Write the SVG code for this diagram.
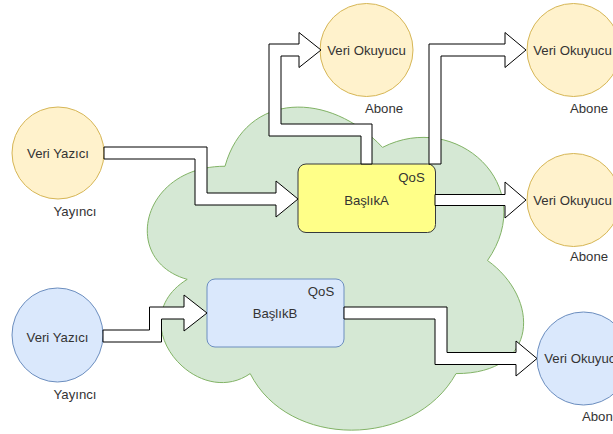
<svg xmlns="http://www.w3.org/2000/svg" width="613" height="434" viewBox="0 0 613 434">
<style>
text{font-family:"Liberation Sans",Arial,sans-serif;font-size:13.2px;fill:#333;text-anchor:middle;dominant-baseline:central}
.y{fill:#fff2cc;stroke:#d6b656;stroke-width:1}
.b{fill:#dae8fc;stroke:#6c8ebf;stroke-width:1}
.arr{fill:#fff;stroke:#000;stroke-width:1;stroke-linejoin:miter}
</style>
<rect width="613" height="434" fill="#fff"/>
<g id="cloud">
<path d="M225,166.25 C141,166.25 120,260.5 187.2,279.35 C120,320.82 195.6,411.3 250.2,373.6 C288,449 414,449 456,373.6 C540,373.6 540,298.2 487.5,260.5 C540,185.1 456,109.7 382.5,147.4 C330,90.85 246,90.85 225,166.25 Z" fill="#d5e8d4" stroke="#82b366" stroke-width="1"/>
</g>
<g id="pub1">
<circle class="y" cx="58" cy="153" r="46"/>
<text x="58" y="153">Veri Yazıcı</text>
<text x="75" y="211">Yayıncı</text>
</g>
<g id="pub2">
<ellipse class="b" cx="57.5" cy="335" rx="45.5" ry="47"/>
<text x="57.5" y="337">Veri Yazıcı</text>
<text x="75" y="394">Yayıncı</text>
</g>
<g id="sub1">
<circle class="y" cx="366.5" cy="50" r="46.5"/>
<text x="366.5" y="50">Veri Okuyucu</text>
<text x="384" y="108">Abone</text>
</g>
<g id="sub2">
<circle class="y" cx="573.5" cy="50" r="46.5"/>
<text x="572.5" y="50">Veri Okuyucu</text>
<text x="589" y="108">Abone</text>
</g>
<g id="sub3">
<circle class="y" cx="573.5" cy="200" r="46.5"/>
<text x="572.5" y="200">Veri Okuyucu</text>
<text x="589" y="256">Abone</text>
</g>
<g id="sub4">
<ellipse class="b" cx="583.5" cy="358.5" rx="46.5" ry="46.5"/>
<text x="583.5" y="358.5">Veri Okuyucu</text>
<text x="601" y="416">Abone</text>
</g>
<g id="topicA">
<rect x="298" y="164" width="137.5" height="68.5" rx="8" fill="#ffff88" stroke="#36393d" stroke-width="1"/>
<text x="411.5" y="177">QoS</text>
<text x="366.5" y="200">BaşlıkA</text>
</g>
<g id="topicB">
<rect x="207" y="279" width="137" height="68" rx="8" class="b"/>
<text x="321" y="291">QoS</text>
<text x="275" y="313">BaşlıkB</text>
</g>
<g id="connectors">
<path class="arr" d="M104,147 L207,147 L207,193 L276,193 L276,181 L298,199 L276,217 L276,205 L195,205 L195,159 L104,159 Z"/>
<path class="arr" d="M361,164 L361,136 L269,136 L269,44 L299,44 L299,32.5 L321,50 L299,67.5 L299,56 L281,56 L281,124 L372,124 L372,164 Z"/>
<path class="arr" d="M429,164 L429,44 L505,44 L505,32.5 L526,50 L505,67.5 L505,56 L441,56 L441,164 Z"/>
<path class="arr" d="M435,194.5 L505,194.5 L505,182 L526,200 L505,218 L505,205.5 L435,205.5 Z"/>
<path class="arr" d="M103,330 L149.5,330 L149.5,307 L184,307 L184,295 L207,313 L184,331 L184,319 L161.5,319 L161.5,342 L103,342 Z"/>
<path class="arr" d="M344,307 L447,307 L447,352.5 L516,352.5 L516,341 L537,358.5 L516,376 L516,364.5 L435,364.5 L435,319 L344,319 Z"/>
</g>
</svg>
